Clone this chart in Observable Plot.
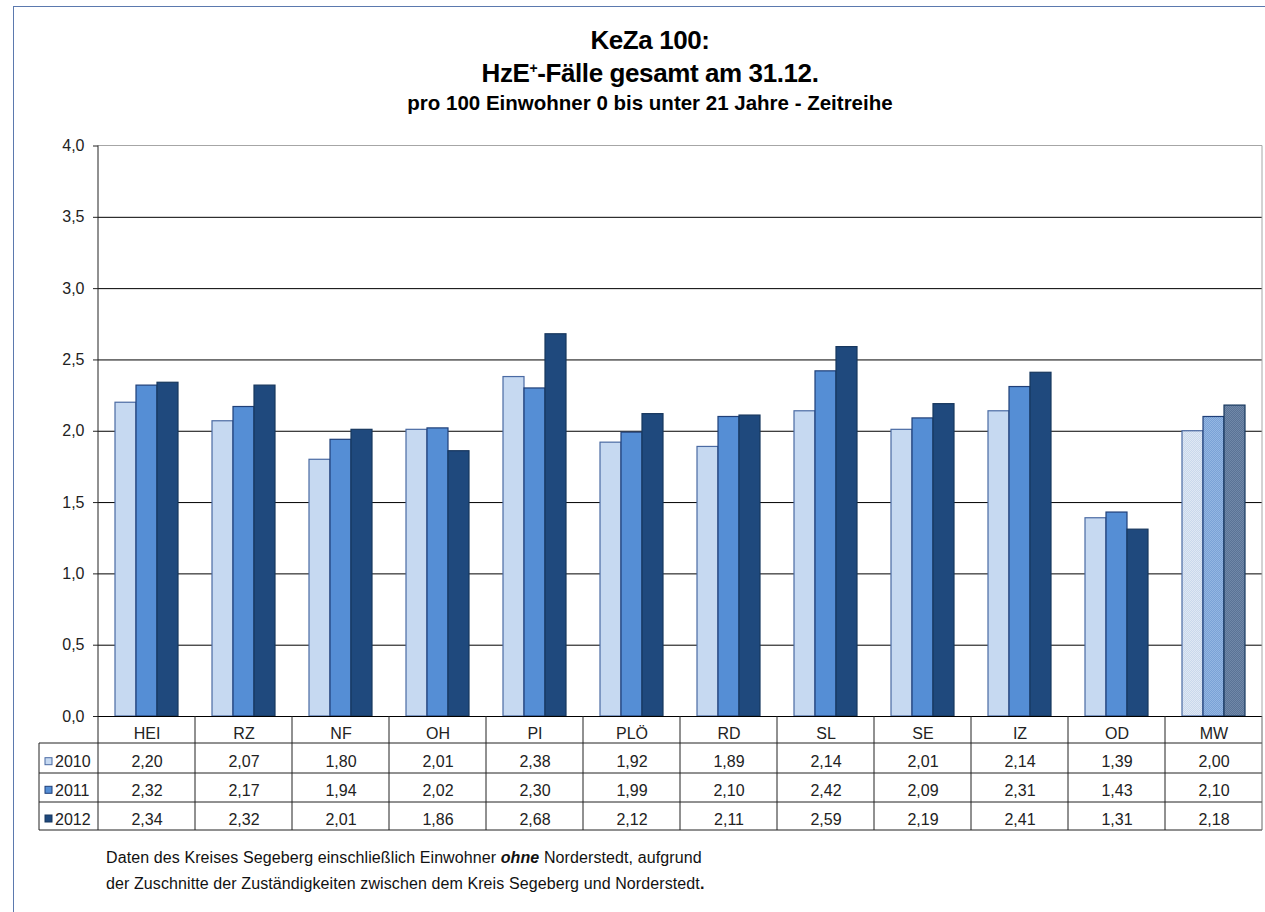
<!DOCTYPE html>
<html><head><meta charset="utf-8">
<script src="https://cdn.jsdelivr.net/npm/d3@7"></script>
<script src="https://cdn.jsdelivr.net/npm/@observablehq/plot@0.6"></script>
<style>
body{margin:0;background:#fff;font-family:"Liberation Sans",Arial,sans-serif;}
#page{position:relative;width:1265px;height:912px;overflow:hidden;background:#fff;}
#frame{position:absolute;left:13px;top:6px;width:1300px;height:1000px;border-left:1.5px solid #5b79ae;border-top:1.5px solid #5b79ae;pointer-events:none;}
.t{position:absolute;left:0;width:1300px;text-align:center;font-weight:bold;color:#000;line-height:1;white-space:nowrap;}
#chart{position:absolute;left:0;top:130px;}
.foot{position:absolute;left:106px;font-size:16px;line-height:1;color:#111;letter-spacing:0.1px;white-space:nowrap;}
</style></head><body>
<div id="page">
<div class="t" style="top:27px;font-size:26px;letter-spacing:-0.4px">KeZa 100:</div>
<div class="t" style="top:59.5px;font-size:26px;letter-spacing:-0.4px">HzE<sup style="font-size:14px;vertical-align:9px;line-height:0">+</sup>-Fälle gesamt am 31.12.</div>
<div class="t" style="top:92.5px;font-size:20.5px;">pro 100 Einwohner 0 bis unter 21 Jahre - Zeitreihe</div>
<div id="chart"></div>
<div class="foot" style="top:850px">Daten des Kreises Segeberg einschließlich Einwohner <b><i>ohne</i></b> Norderstedt, aufgrund</div>
<div class="foot" style="top:876px">der Zuschnitte der Zuständigkeiten zwischen dem Kreis Segeberg und Norderstedt<b>.</b></div>
<div id="frame"></div>
</div>
<script>
const categories = ["HEI","RZ","NF","OH","PI","PLÖ","RD","SL","SE","IZ","OD","MW"];
const years = ["2010","2011","2012"];
const v2010 = [2.20,2.07,1.80,2.01,2.38,1.92,1.89,2.14,2.01,2.14,1.39,2.00];
const v2011 = [2.32,2.17,1.94,2.02,2.30,1.99,2.10,2.42,2.09,2.31,1.43,2.10];
const v2012 = [2.34,2.32,2.01,1.86,2.68,2.12,2.11,2.59,2.19,2.41,1.31,2.18];
const yTicks = [0,0.5,1,1.5,2,2.5,3,3.5,4];

const series = [v2010, v2011, v2012];
const rows = categories.flatMap((c,i) => years.map((y,j) => ({cat: c, year: y, value: series[j][i]})));

const fills = {"2010":"#c6d9f1","2011":"#558ed5","2012":"#1f497d"};
const strokes = {"2010":"#4a6aa3","2011":"#1f3f78","2012":"#17375e"};
const mwColors = {"2010":["#dfe8f4","#c9d8ec"],"2011":["#94b6e2","#7aa2d6"],"2012":["#7088a8","#5a7396"]};
const fmt = v => v.toFixed(2).replace(".", ",");
const fmtTick = v => v.toFixed(1).replace(".", ",");
const rowDy = {"2010":50.8,"2011":79.4,"2012":108.1};
const catDy = 22;

const chart = Plot.plot({
  width: 1265, height: 720,
  marginLeft: 96, marginRight: 1, marginTop: 15.5, marginBottom: 134,
  style: {fontFamily: "'Liberation Sans', Arial, sans-serif", fontSize: "16px", color: "#222", background: "none", overflow: "visible"},
  fx: {domain: categories, paddingInner: 0, paddingOuter: 0, axis: null},
  x: {domain: years, paddingInner: 0, paddingOuter: 0.8, axis: null},
  y: {domain: [0, 4], axis: null},
  color: {type: "identity"},
  marks: [
    Plot.gridY(yTicks.filter(t => t > 0 && t < 4), {stroke: "#000", strokeOpacity: 1}),
    Plot.barY(rows, {
      fx: "cat", x: "year", y: "value",
      fill: d => d.cat === "MW" ? `url(#mw${d.year})` : fills[d.year],
      stroke: d => strokes[d.year], strokeWidth: 1.2
    }),
    Plot.axisY({ticks: yTicks, tickFormat: fmtTick, tickSize: 5, tickPadding: 9, stroke: "#222", fill: "#222", label: null}),
    Plot.ruleY([0], {stroke: "#000"}),
    Plot.text(categories, {fx: d => d, text: d => d, frameAnchor: "bottom", dy: catDy, fill: "#222"}),
    ...years.map(y => Plot.text(rows.filter(d => d.year === y), {fx: "cat", text: d => fmt(d.value), frameAnchor: "bottom", dy: rowDy[y], fill: "#222"}))
  ]
});
document.getElementById("chart").appendChild(chart);

// patterns for the MW (mean) bars
const svg = d3.select(chart);
const defs = svg.insert("defs", ":first-child");
years.forEach(y => {
  const [a, b] = mwColors[y];
  const p = defs.append("pattern").attr("id", "mw" + y).attr("width", 2).attr("height", 2).attr("patternUnits", "userSpaceOnUse");
  p.append("rect").attr("width", 2).attr("height", 2).attr("fill", a);
  p.append("rect").attr("width", 1).attr("height", 1).attr("fill", b);
  p.append("rect").attr("x", 1).attr("y", 1).attr("width", 1).attr("height", 1).attr("fill", b);
});

// plot-area border and data table grid, positioned from the chart's scales
const fx = chart.scale("fx"), ys = chart.scale("y");
const x0 = fx.apply(categories[0]);
const x1 = fx.apply(categories[categories.length - 1]) + fx.bandwidth;
const yTop = ys.apply(4), y0 = ys.apply(0);
const g = svg.append("g").attr("fill", "none");
g.append("line").attr("x1", x0).attr("x2", x1).attr("y1", yTop).attr("y2", yTop).attr("stroke", "#a6a6a6");
g.append("line").attr("x1", x1).attr("x2", x1).attr("y1", yTop).attr("y2", y0).attr("stroke", "#a6a6a6");
g.append("line").attr("x1", x0).attr("x2", x0).attr("y1", yTop).attr("y2", y0).attr("stroke", "#222");
const legendLeft = 39;
const rowLines = [27, 57, 86, 114];
rowLines.forEach(o => g.append("line").attr("x1", legendLeft).attr("x2", x1).attr("y1", y0 + o).attr("y2", y0 + o).attr("stroke", "#222"));
const edges = categories.map(c => fx.apply(c)).concat([x1]);
edges.forEach((e, i) => g.append("line").attr("x1", e).attr("x2", e).attr("y1", y0).attr("y2", y0 + 114).attr("stroke", i === edges.length - 1 ? "#666" : "#222"));
g.append("line").attr("x1", legendLeft).attr("x2", legendLeft).attr("y1", y0 + 27).attr("y2", y0 + 114).attr("stroke", "#222");
// legend keys in the table's first column
const legendCy = {"2010": 45.7, "2011": 74.3, "2012": 103};
years.forEach(y => {
  const cy = y0 + legendCy[y];
  svg.append("rect").attr("x", 45).attr("y", cy - 4).attr("width", 7).attr("height", 7)
    .attr("fill", fills[y]).attr("stroke", strokes[y]).attr("stroke-width", 1);
  svg.append("text").attr("x", 55).attr("y", cy).attr("dy", "0.35em").attr("text-anchor", "start")
    .attr("font-family", "'Liberation Sans', Arial, sans-serif").attr("font-size", 16).attr("fill", "#222").text(y);
});
</script>
</body></html>
